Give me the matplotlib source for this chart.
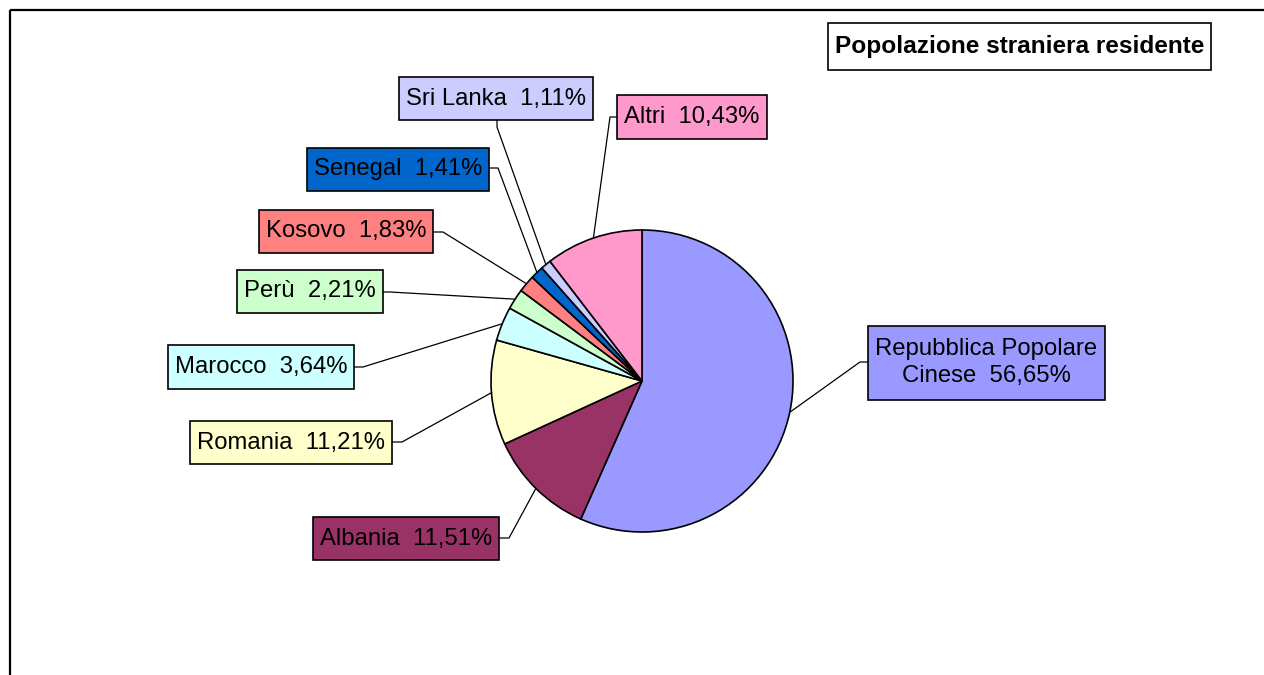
import matplotlib
matplotlib.use("Agg")
import matplotlib.pyplot as plt
from matplotlib.patches import Rectangle
import numpy as np

# ---- data ----
countries = ["Repubblica Popolare\nCinese", "Albania", "Romania", "Marocco", "Perù",
             "Kosovo", "Senegal", "Sri Lanka", "Altri"]
shares = [56.65, 11.51, 11.21, 3.64, 2.21, 1.83, 1.41, 1.11, 10.43]
colors = ["#9999FF", "#993366", "#FFFFCC", "#CCFFFF", "#CCFFCC",
          "#FF8080", "#0066CC", "#CCCCFF", "#FF99CC"]
title = "Popolazione straniera residente"

# ---- layout (pixel coords, y from top) ----
W, H = 1264, 675
center_px = (642, 381)
radius_px = 151
# box centre, attach point on box, elbow point, box height
label_layout = [
    ((986.5, 362.5), (868, 362), (860, 362), 74),   # Cina
    ((406, 538.5), (500, 538), (509, 538), 43),     # Albania
    ((291, 442.5), (392, 442), (402, 442), 43),     # Romania
    ((261, 367), (354, 367), (363, 367), 44),       # Marocco
    ((310, 291.5), (382, 292), (390, 292), 43),     # Perù
    ((346, 231.5), (434, 232), (443, 232), 43),     # Kosovo
    ((398, 169), (489, 168), (498, 168), 43),       # Senegal
    ((496, 98.5), (497, 120), (497, 127), 43),      # Sri Lanka
    ((692, 116.5), (618, 117), (610, 117), 44),     # Altri
]
PADX = 7

def fy(y):
    return H - y

fig = plt.figure(figsize=(W / 100, H / 100), dpi=100)
ax = fig.add_axes([0, 0, 1, 1])

wedges, _ = ax.pie(shares, colors=colors, startangle=90, counterclock=False,
                   center=(center_px[0], fy(center_px[1])), radius=radius_px,
                   wedgeprops=dict(edgecolor="black", linewidth=1.2),
                   frame=True)
ax.set_xlim(0, W)
ax.set_ylim(0, H)
ax.set_aspect("equal")
ax.axis("off")

# frame (top and left visible)
ax.plot([10, W], [fy(10), fy(10)], color="black", lw=1.6, solid_capstyle="butt")
ax.plot([10, 10], [fy(10), 0], color="black", lw=1.6, solid_capstyle="butt")

renderer = fig.canvas.get_renderer()
font = "Liberation Sans"

def boxed_text(x, y, s, col, box_h, padx, fontsize=17.2, **kw):
    t = ax.text(x, y, s, family=font, fontsize=fontsize, ha="center", va="center",
                zorder=6, **kw)
    bb = t.get_window_extent(renderer).transformed(ax.transData.inverted())
    wbox = bb.width + 2 * padx
    ax.add_patch(Rectangle((x - wbox / 2, y - box_h / 2), wbox, box_h,
                           facecolor=col, edgecolor="black", linewidth=1.2,
                           zorder=5))
    return t

for name, val, col, w, (bc, att, elb, bh) in zip(countries, shares, colors, wedges, label_layout):
    label = f"{name}  {val:.2f}%".replace(".", ",")
    mid = np.deg2rad((w.theta1 + w.theta2) / 2)
    ex = center_px[0] + radius_px * np.cos(mid)
    ey = fy(center_px[1]) + radius_px * np.sin(mid)
    ax.plot([att[0], elb[0], ex], [fy(att[1]), fy(elb[1]), ey],
            color="black", lw=0.9, zorder=1)
    boxed_text(bc[0], fy(bc[1]), label, col, bh, PADX, linespacing=1.28)

boxed_text(1019.5, fy(46.5), title, "white", 47, 7, fontsize=17.6,
           fontweight="bold")

fig.savefig("out.png", dpi=100)
